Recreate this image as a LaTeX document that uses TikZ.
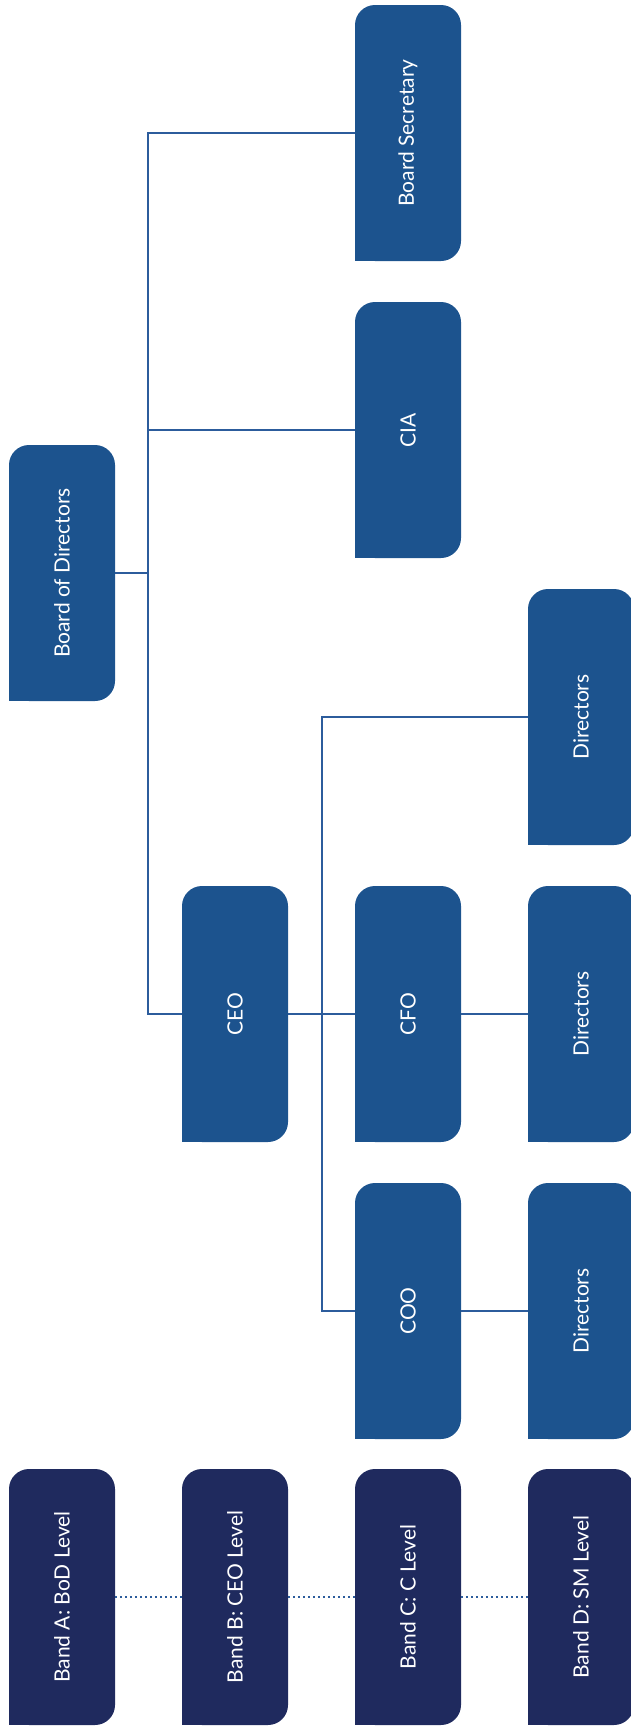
\documentclass[tikz,border=0pt]{standalone}
\usepackage{fontspec}
\setmainfont{Lato}
\usetikzlibrary{positioning,calc}

\definecolor{unitblue}{RGB}{28,83,142}
\definecolor{bandnavy}{RGB}{31,42,94}
\definecolor{linkblue}{RGB}{44,92,156}

\tikzset{
  unit/.style={fill=unitblue,rounded corners=20pt,minimum width=106pt,minimum height=256pt,
    inner sep=0pt,text=white,font=\fontsize{21}{25}\selectfont},
  band/.style={unit,fill=bandnavy},
  link/.style={draw=linkblue,line width=1.5pt},
  dots/.style={draw=linkblue,line width=2pt,dash pattern=on 2pt off 3pt}
}

\begin{document}
\begin{tikzpicture}
                    [x=1pt,y=-1pt]

                \useasboundingbox (0,0) rectangle (630,1729);

                % org units
                \node[unit] (bod)  at (62,573)   {\rotatebox{90}{Board of Directors}};
                \node[unit] (sec)  at (408,133)  {\rotatebox{90}{Board Secretary}};
                \node[unit] (cia)  at (408,430)  {\rotatebox{90}{CIA}};
                \node[unit] (ceo)  at (235,1014) {\rotatebox{90}{CEO}};
                \node[unit] (cfo)  at (408,1014) {\rotatebox{90}{CFO}};
                \node[unit] (coo)  at (408,1311) {\rotatebox{90}{COO}};
                \node[unit] (dirA) at (581,717)  {\rotatebox{90}{Directors}};
                \node[unit] (dirB) at (581,1014) {\rotatebox{90}{Directors}};
                \node[unit] (dirC) at (581,1311) {\rotatebox{90}{Directors}};

                % bands
                \node[band] (bandA) at (62,1597)  {\rotatebox{90}{Band A: BoD Level}};
                \node[band] (bandB) at (235,1597) {\rotatebox{90}{Band B: CEO Level}};
                \node[band] (bandC) at (408,1597) {\rotatebox{90}{Band C: C Level}};
                \node[band] (bandD) at (581,1597) {\rotatebox{90}{Band D: SM Level}};

                % square lower left corners
                \foreach \n in {bod,sec,cia,ceo,cfo,coo,dirA,dirB,dirC}
                    \fill[unitblue] (\n.south west) rectangle +(20pt,20pt);
                \foreach \n in {bandA,bandB,bandC,bandD}
                    \fill[bandnavy] (\n.south west) rectangle +(20pt,20pt);

                \coordinate (trunk) at (148,573);
                \coordinate (fork) at (322,1014);

                \draw[link] (bod) -- (trunk);
                \draw[link] (sec.west) -| (trunk) |- (ceo.west);
                \draw[link] (cia.west) -- (cia.west -| trunk);
                \draw[link] (ceo) -- (cfo);
                \draw[link] (dirA.west) -| (fork) |- (coo.west);
                \draw[link] (cfo) -- (dirB);
                \draw[link] (coo) -- (dirC);

                \draw[dots] (bandA) -- (bandB);
                \draw[dots] (bandB) -- (bandC);
                \draw[dots] (bandC) -- (bandD);

                \end{tikzpicture}
\end{document}
